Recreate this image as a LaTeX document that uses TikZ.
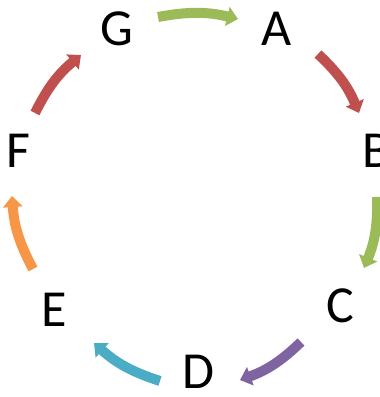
\documentclass[tikz,border=0pt]{standalone}
\usepackage{fontspec}
\setmainfont{Carlito}
\usetikzlibrary{arrows.meta}

\definecolor{ringgreen}{HTML}{9BBB59}
\definecolor{ringred}{HTML}{C0504D}
\definecolor{ringpurple}{HTML}{8064A2}
\definecolor{ringteal}{HTML}{4BACC6}
\definecolor{ringorange}{HTML}{F79646}

\begin{document}
\begin{tikzpicture}[
    x=1pt, y=1pt,
    every node/.style={font=\fontsize{52}{60}\selectfont},
    letter_node/.style={inner sep=0pt},
    ring_arrow/.style={line width=10pt, -{Triangle[length=11pt,width=19pt]}}
]
\useasboundingbox (0,0) rectangle (380,397);

% Letters
\node[letter_node] (G) at (117,368) {G};
\node[letter_node] (A) at (277,368) {A};
\node[letter_node] (B) at (377,246) {B};
\node[letter_node] (C) at (340,91) {C};
\node[letter_node] (D) at (198,25) {D};
\node[letter_node] (E) at (54,87) {E};
\node[letter_node] (F) at (18,246) {F};

% Arrow ends
\coordinate (ga0) at (158,380); \coordinate (ga1) at (238,378);
\coordinate (ab0) at (318,343); \coordinate (ab1) at (359,284);
\coordinate (bc0) at (377,200); \coordinate (bc1) at (364,129);
\coordinate (cd0) at (301,55);  \coordinate (cd1) at (240,17);
\coordinate (de0) at (160,16);  \coordinate (de1) at (94,54);
\coordinate (ef0) at (33,128);  \coordinate (ef1) at (12,201);
\coordinate (fg0) at (35,284);  \coordinate (fg1) at (81,342);

% Cycle arrows
\draw[ring_arrow, ringgreen]  (ga0) to[bend left=12] (ga1);
\draw[ring_arrow, ringred]    (ab0) to[bend left=12] (ab1);
\draw[ring_arrow, ringgreen]  (bc0) to[bend left=12] (bc1);
\draw[ring_arrow, ringpurple] (cd0) to[bend left=12] (cd1);
\draw[ring_arrow, ringteal]   (de0) to[bend left=12] (de1);
\draw[ring_arrow, ringorange] (ef0) to[bend left=12] (ef1);
\draw[ring_arrow, ringred]    (fg0) to[bend left=12] (fg1);

\end{tikzpicture}
\end{document}
